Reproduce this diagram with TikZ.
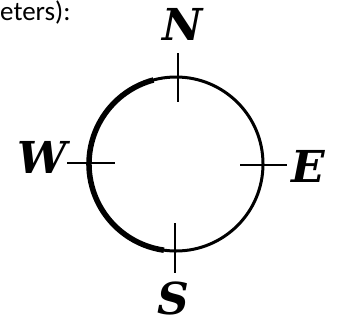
\documentclass[tikz,border=0pt]{standalone}
\usepackage{fontspec}
\setmainfont{DejaVu Serif}
\newfontfamily\capfont{Carlito}
\begin{document}
\begin{tikzpicture}[x=1pt,y=-1pt,
  dir/.style={font=\fontsize{44}{44}\selectfont\bfseries\itshape, inner sep=0pt, anchor=base, text depth=0pt},
  tick/.style={line width=2.2pt},
  ring/.style={line width=3pt}]
\useasboundingbox (0,0) rectangle (344,321);
\node[anchor=base west, inner sep=0pt, font=\capfont\fontsize{27}{27}\selectfont] (cap) at (0,21) {eters):};
\coordinate (c) at (176,164);
\draw[ring] (c) circle[radius=87];
\draw[line width=5.5pt] (c) ++(75:-87) arc[start angle=-105, end angle=-262, radius=87];
\coordinate (n1) at (178,53); \coordinate (n2) at (178,102);
\coordinate (s1) at (175,223); \coordinate (s2) at (175,273);
\coordinate (w1) at (67,163); \coordinate (w2) at (115,163);
\coordinate (e1) at (240,165); \coordinate (e2) at (287,165);
\draw[tick] (n1) -- (n2);
\draw[tick] (s1) -- (s2);
\draw[tick] (w1) -- (w2);
\draw[tick] (e1) -- (e2);
\node[dir] (N) at (183,41) {N};
\node[dir] (W) at (42,173) {W};
\node[dir] (E) at (308,182) {E};
\node[dir] (S) at (173,314) {S};
\end{tikzpicture}
\end{document}
